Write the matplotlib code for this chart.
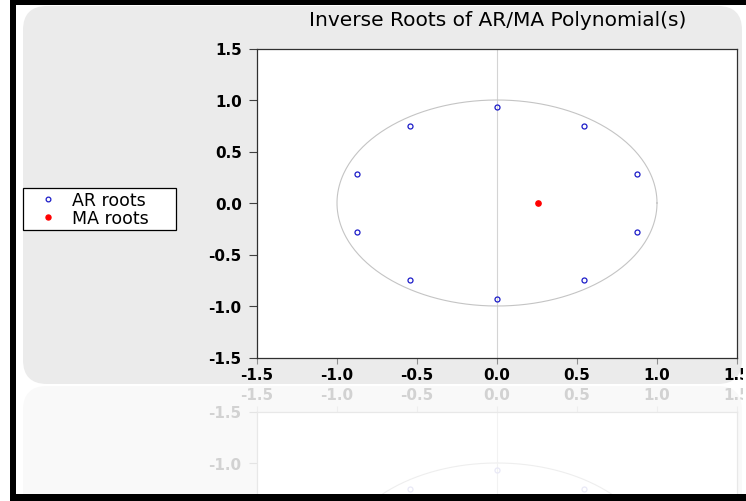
import matplotlib
matplotlib.use("Agg")
import numpy as np
import matplotlib.pyplot as plt
from matplotlib.patches import FancyBboxPatch, Rectangle
from matplotlib.lines import Line2D
from matplotlib.transforms import IdentityTransform

# inverse roots
ar_re = [0.0, 0.545, 0.878, 0.878, 0.545, 0.0, -0.545, -0.878, -0.878, -0.545]
ar_im = [0.93, 0.752, 0.285, -0.285, -0.752, -0.93, -0.752, -0.285, 0.285, 0.752]
ma_re = [0.257]
ma_im = [0.0]

ticks = [-1.5, -1.0, -0.5, 0.0, 0.5, 1.0, 1.5]
tick_labels = ["-1.5", "-1.0", "-0.5", "0.0", "0.5", "1.0", "1.5"]
title = "Inverse Roots of AR/MA Polynomial(s)"
legend_labels = ["AR roots", "MA roots"]

W, H = 746, 502
plt.rcParams["axes.unicode_minus"] = False
plt.rcParams["font.family"] = ["DejaVu Sans"]

fig = plt.figure(figsize=(W / 100, H / 100), dpi=100, facecolor="white")


def px(x0, y0, x1, y1):
    # image pixel box (top-left origin) -> display coords
    return x0, H - y1, x1 - x0, y1 - y0


def unit_circle(ax, color, lw):
    t = np.linspace(0, 2 * np.pi, 400)
    ax.plot(np.cos(t), np.sin(t), color=color, lw=lw, zorder=1)


# grey panel and its faint reflection
x, y, w, h = px(23, 7, 742, 385)
fig.patches.append(FancyBboxPatch((x, y), w, h, boxstyle="round,pad=0,rounding_size=24",
                                  transform=IdentityTransform(), facecolor="#ebebeb",
                                  edgecolor="none", zorder=-2))
x, y, w, h = px(23, 387, 742, 520)
fig.patches.append(FancyBboxPatch((x, y), w, h, boxstyle="round,pad=0,rounding_size=24",
                                  transform=IdentityTransform(), facecolor="#f9f9f9",
                                  edgecolor="none", zorder=-2))

# main axes
ax = fig.add_axes([257 / W, 1 - 358.5 / H, 480 / W, 309 / H])
ax.set_facecolor("white")
ax.axvline(0, color="#d4d4d4", lw=0.8, zorder=1)
unit_circle(ax, "#c4c4c4", 0.8)
ax.plot(ar_re, ar_im, ls="none", marker="o", ms=3.6, mfc="none", mec="#1c1cc8", mew=0.9, zorder=3)
ax.plot(ma_re, ma_im, ls="none", marker="o", ms=3.8, mfc="#ff0000", mec="#ff0000", zorder=3)
ax.set_xlim(-1.5, 1.5)
ax.set_ylim(-1.5, 1.5)
ax.set_xticks(ticks, tick_labels)
ax.set_yticks(ticks, tick_labels)
for s in ax.spines.values():
    s.set_color("#303030")
    s.set_linewidth(0.9)
ax.tick_params(axis="y", direction="out", length=6, width=0.8, color="#404040", pad=5)
ax.tick_params(axis="x", direction="out", length=4, width=0.8, color="#909090", pad=3)
for lab in ax.get_xticklabels() + ax.get_yticklabels():
    lab.set_fontsize(11)
    lab.set_fontweight("bold")

# reflection of the plot below the panel
rx = fig.add_axes([257 / W, 1 - 721.5 / H, 480 / W, 309 / H])
rx.set_facecolor("white")
rx.axvline(0, color="#f2f2f2", lw=0.8)
unit_circle(rx, "#eeeeee", 0.8)
rx.plot(ar_re, ar_im, ls="none", marker="o", ms=3.6, mfc="none", mec="#e8e8f6", mew=0.9)
rx.set_xlim(-1.5, 1.5)
rx.set_ylim(1.5, -1.5)
rx.xaxis.tick_top()
rx.set_xticks(ticks, tick_labels)
rx.set_yticks(ticks[:2], tick_labels[:2])
for s in rx.spines.values():
    s.set_color("#e8e8e8")
    s.set_linewidth(0.9)
rx.tick_params(axis="y", direction="out", length=6, width=0.8, color="#e4e4e4", pad=5)
rx.tick_params(axis="x", direction="out", length=4, width=0.8, color="#eeeeee", pad=3)
for lab in rx.get_xticklabels() + rx.get_yticklabels():
    lab.set_fontsize(11)
    lab.set_fontweight("bold")
    lab.set_color("#d2d2d2")

# title
fig.text(497.5 / W, 1 - 20 / H, title, ha="center", va="center", fontsize=14.5, color="black")

# legend
handles = [
    Line2D([], [], ls="none", marker="o", ms=3.4, mfc="none", mec="#1c1cc8", mew=0.9),
    Line2D([], [], ls="none", marker="o", ms=3.6, mfc="#ff0000", mec="#ff0000"),
]
leg = fig.legend(handles, legend_labels, loc="upper left",
                 bbox_to_anchor=(23 / W, 1 - 230 / H, 153 / W, 41 / H), mode="expand",
                 borderaxespad=0, fancybox=False, framealpha=1, edgecolor="black",
                 fontsize=12.5, borderpad=0.15, labelspacing=0.05, handlelength=2.6,
                 handletextpad=0.1)
leg.get_frame().set_linewidth(0.9)

# screenshot frame
for box, col in [((743, 0, 746, 502), "white"), ((10, 1, 746, 6), "black"),
                 ((10, 1, 16, 502), "black"), ((10, 495, 746, 502), "black")]:
    x, y, w, h = px(*box)
    fig.patches.append(Rectangle((x, y), w, h, transform=IdentityTransform(),
                                 facecolor=col, edgecolor="none", zorder=10))

fig.savefig("out.png", dpi=100, facecolor="white")
